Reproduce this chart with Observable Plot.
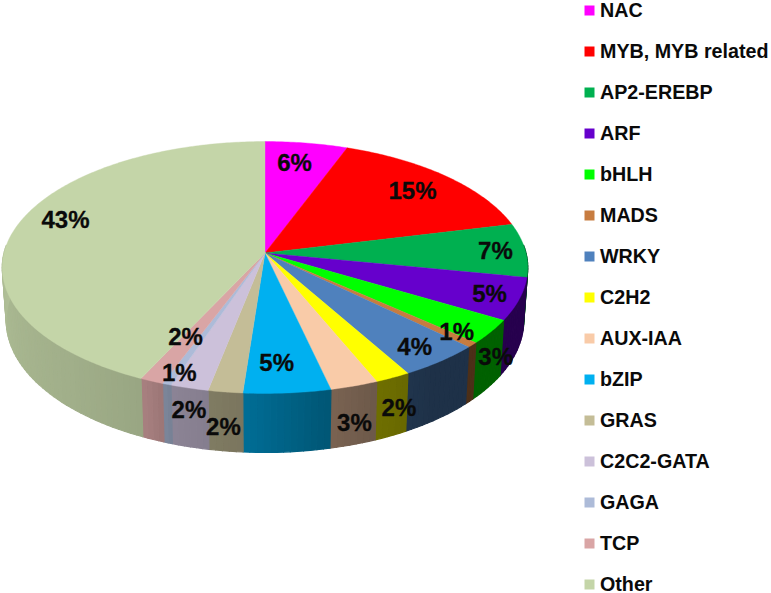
<!DOCTYPE html>
<html>
<head>
<meta charset="utf-8">
<script src="https://cdn.jsdelivr.net/npm/d3@7"></script>
<script src="https://cdn.jsdelivr.net/npm/@observablehq/plot@0.6"></script>
<style>
  html, body { margin: 0; padding: 0; background: #fff; }
  #chart { display: flex; width: 771px; height: 593px; }
  #chart svg { display: block; flex: none; background: #fff; }
</style>
</head>
<body>
<div id="chart"></div>
<script>
// ---- data ----
const families = ["NAC","MYB, MYB related","AP2-EREBP","ARF","bHLH","MADS","WRKY","C2H2","AUX-IAA","bZIP","GRAS","C2C2-GATA","GAGA","TCP","Other"];
const shares   = [5.67,15.53,6.88,5.42,3.1,0.66,4.54,1.95,2.65,4.8,1.9,2.1,0.5,1.3,43];
const labels   = ["6%","15%","7%","5%","3%","1%","4%","2%","3%","5%","2%","2%","1%","2%","43%"];
const colors   = ["#ff00ff","#ff0000","#00b050","#6600cc","#00ff00","#c77c40","#4f81bd","#ffff00","#f9cba8","#00b0f0","#c4bd97","#ccc1da","#adbbd8","#d9a5a5","#c4d5a8"];
// where each percentage label was placed: position round the pie (in %), and distance from the centre (1 = rim)
const labelAt     = [2.48,13.56,24.8,30.9,37.1,36.4,39.7,43.8,46.1,49.2,51.8,53.6,55.2,56.7,80.25];
const labelRadius = [.795,.796,.884,.889,1.112,.907,.875,1.181,1.22,.808,1.216,1.134,.92,.691,.833];
// darkening of the side wall round the pie: position (share of the circle), brightness
const wallAt    = [.25,.40,.44,.47,.49,.51,.55,.57,.62,.70,.76];
const wallShade = [.38,.38,.44,.50,.56,.62,.68,.78,.82,.86,.90];

// ---- view: a tilted disc seen in perspective ----
const perspective = 0.115, depth = 0.418, flare = 1.05, shrink = 0.985;
const tau = 2 * Math.PI;
const project = (f, r = 1) => {
  const u = r * Math.sin(f * tau), v = -r * Math.cos(f * tau), w = 1 - perspective * v;
  return [u / w, v / w];
};
const shade = d3.scaleLinear().domain(wallAt).range(wallShade).clamp(true);
const dim = (c, s) => { const q = d3.rgb(c); return d3.rgb(q.r * s, q.g * s, q.b * s).formatHex(); };

const total = d3.sum(shares);
let acc = 0;
const slices = families.map((name, i) => {
  const start = acc / total; acc += shares[i];
  return { name, start, end: acc / total, color: colors[i], label: labels[i] };
});

// top face
const topFace = [];
slices.forEach(s => {
  const n = Math.max(2, Math.ceil((s.end - s.start) / 0.002));
  const pts = [[0, 0], ...d3.range(n + 1).map(j => project(s.start + (s.end - s.start) * j / n)), [0, 0]];
  pts.forEach(([x, y]) => topFace.push({ id: s.name, x, y, fill: s.color }));
});

// side wall
const wallFace = [];
slices.forEach(s => {
  const a = Math.max(s.start, 0.24), b = Math.min(s.end, 0.76);
  if (b <= a) return;
  const n = Math.ceil((b - a) / 0.004);
  d3.range(n).forEach(j => {
    const f0 = a + (b - a) * j / n, f1 = a + (b - a) * (j + 1) / n;
    const [x0, y0] = project(f0), [x1, y1] = project(f1);
    const fill = dim(s.color, shade((f0 + f1) / 2));
    const id = s.name + j;
    [[x0, y0], [x1, y1], [x1 * shrink, y1 * flare + depth], [x0 * shrink, y0 * flare + depth], [x0, y0]]
      .forEach(([x, y]) => wallFace.push({ id, x, y, fill }));
  });
});

const pieLabels = labels.map((label, i) => {
  const [x, y] = project(labelAt[i] / 100, labelRadius[i]);
  return { label, x, y };
});

const pie = Plot.plot({
  width: 560, height: 593, margin: 0,
  x: { domain: [-1, 1], range: [3.5, 525.5], axis: null },
  y: { domain: [-1, 1], range: [128.2, 376.8], axis: null },
  color: { type: "identity" },
  marks: [
    Plot.line(wallFace, { x: "x", y: "y", z: "id", fill: "fill", stroke: "fill", strokeWidth: 1.2 }),
    Plot.line(topFace,  { x: "x", y: "y", z: "id", fill: "fill", stroke: "fill", strokeWidth: 0.4 }),
    Plot.text(pieLabels, { x: "x", y: "y", text: "label", fontFamily: "Liberation Sans", fontWeight: "bold", fontSize: 24, fill: "#0a0a0a", stroke: "#0a0a0a", strokeWidth: 0.3 })
  ]
});

const legend = Plot.plot({
  width: 211, height: 593, margin: 0,
  y: { type: "point", domain: families, range: [10, 584], padding: 0, axis: null },
  color: { type: "identity" },
  marks: [
    Plot.dot(slices, { y: "name", fill: "color", symbol: "square", r: 5.64, frameAnchor: "left", dx: 29 }),
    Plot.text(slices, { y: "name", text: "name", frameAnchor: "left", textAnchor: "start", dx: 39.5, fontFamily: "Liberation Sans", fontWeight: "bold", fontSize: 19.7, fill: "#0a0a0a" })
  ]
});

document.getElementById("chart").append(pie, legend);
</script>
</body>
</html>
